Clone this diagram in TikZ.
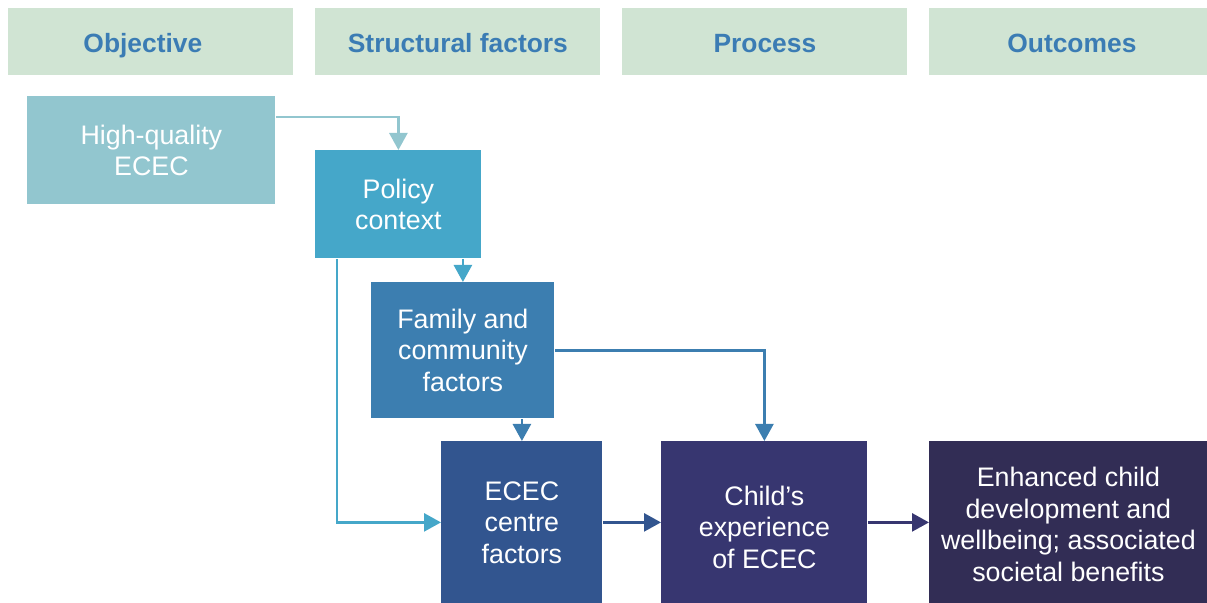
\documentclass[tikz,border=0pt]{standalone}
\usepackage{fontspec}
\setmainfont{Liberation Sans}
\usetikzlibrary{arrows.meta}
\definecolor{hdrfill}{HTML}{D0E4D3}
\definecolor{hdrtext}{HTML}{3B7CB4}
\definecolor{cA}{HTML}{92C6CF}
\definecolor{cB}{HTML}{45A7C9}
\definecolor{cC}{HTML}{3C7EB0}
\definecolor{cD}{HTML}{32558F}
\definecolor{cE}{HTML}{373670}
\definecolor{cF}{HTML}{322D55}
\begin{document}
\begin{tikzpicture}[x=0.5pt,y=-0.5pt,
  hdr/.style={fill=hdrfill, inner sep=0, anchor=north west,
    minimum height=33.5pt},
  hdrlabel/.style={text=hdrtext, inner sep=0, text height=12pt, text depth=1.5pt,
    font=\fontsize{13.2}{16}\selectfont\bfseries},
  box/.style={text=white, inner sep=0, anchor=north west, align=center,
    font=\fontsize{13.4}{15.8}\selectfont},
  conn/.style={line width=1.35pt, -{Triangle[width=9pt,length=8.5pt]}}
]
\useasboundingbox (0,0) rectangle (1207,603);
\node[hdr, minimum width=142.5pt] (h1) at (8,8) {};
\node[hdr, minimum width=142.5pt] (h2) at (315,8) {};
\node[hdr, minimum width=142.5pt] (h3) at (622,8) {};
\node[hdr, minimum width=142.5pt] (h4) at (929,8) {};
\node[hdrlabel, xshift=-4pt] (t1) at (h1.center) {Objective};
\node[hdrlabel] (t2) at (h2.center) {Structural factors};
\node[hdrlabel] (t3) at (h3.center) {Process};
\node[hdrlabel] (t4) at (h4.center) {Outcomes};

\node[box, fill=cA, minimum width=124pt, minimum height=54pt] (hq) at (27,96) {High-quality\\ECEC};
\node[box, fill=cB, minimum width=83pt, minimum height=54pt] (pc) at (315,150) {Policy\\context};
\node[box, fill=cC, minimum width=91.5pt, minimum height=68pt] (fam) at (371,282) {Family and\\community\\factors};
\node[box, fill=cD, minimum width=80.5pt, minimum height=81pt] (ecec) at (441,441) {ECEC\\centre\\factors};
\node[box, fill=cE, minimum width=103pt, minimum height=81pt] (child) at (661,441) {};
\node[box, anchor=center, yshift=-2.5pt] (childtext) at (child.center) {Child’s\\experience\\of ECEC};
\node[box, fill=cF, minimum width=139pt, minimum height=81pt] (enh) at (929,441) {};
\node[box, anchor=center, yshift=-1pt] (enhtext) at (enh.center) {Enhanced child\\development and\\wellbeing; associated\\societal benefits};

\draw[conn, cA] ([yshift=-10.5pt]hq.north east) -| (pc.north);
\draw[conn, cB] (pc.south -| fam.north) -- (fam.north);
\draw[conn, cB] ([xshift=11pt]pc.south west) |- (ecec.west);
\draw[conn, cC] (fam.south -| ecec.north) -- (ecec.north);
\draw[conn, cC] (fam.east) -| (child.north);
\draw[conn, cD] (ecec.east) -- (child.west);
\draw[conn, cE] (child.east) -- (enh.west);
\end{tikzpicture}
\end{document}
